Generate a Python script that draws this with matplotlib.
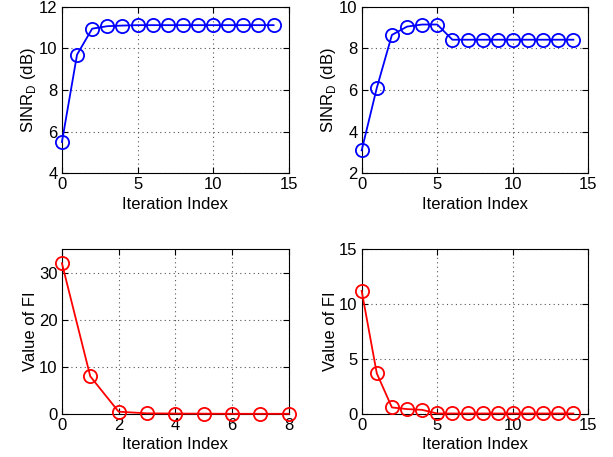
import matplotlib
matplotlib.use('Agg')
import matplotlib.pyplot as plt
import numpy as np

plt.rcParams['font.family'] = ['Liberation Sans', 'DejaVu Sans']
plt.rcParams['font.size'] = 12
plt.rcParams['mathtext.fontset'] = 'custom'
plt.rcParams['mathtext.rm'] = 'Liberation Sans'

# data
iter_tl = list(range(15))
sinr_tl = [5.5, 9.7, 10.95, 11.07, 11.1, 11.12, 11.12, 11.12, 11.12, 11.12, 11.12, 11.12, 11.12, 11.12, 11.12]

iter_tr = list(range(15))
sinr_tr = [3.1, 6.1, 8.65, 9.05, 9.15, 9.15, 8.42, 8.42, 8.42, 8.42, 8.42, 8.42, 8.42, 8.42, 8.42]

iter_bl = list(range(9))
fi_bl = [32.0, 8.0, 0.5, 0.15, 0.1, 0.08, 0.05, 0.05, 0.05]

iter_br = list(range(15))
fi_br = [11.2, 3.7, 0.6, 0.45, 0.38, 0.05, 0.05, 0.05, 0.05, 0.05, 0.05, 0.05, 0.05, 0.05, 0.05]

fig = plt.figure(figsize=(6.13, 4.57), dpi=100)

positions = [
    [0.101, 0.621, 0.370, 0.364],
    [0.590, 0.621, 0.370, 0.364],
    [0.101, 0.094, 0.370, 0.361],
    [0.590, 0.094, 0.370, 0.361],
]

panels = [
    (iter_tl, sinr_tl, 'b', (0, 15), (4, 12), [0, 5, 10, 15], [4, 6, 8, 10, 12], 'SINR$_\\mathrm{D}$ (dB)'),
    (iter_tr, sinr_tr, 'b', (0, 15), (2, 10), [0, 5, 10, 15], [2, 4, 6, 8, 10], 'SINR$_\\mathrm{D}$ (dB)'),
    (iter_bl, fi_bl, 'r', (0, 8), (0, 35), [0, 2, 4, 6, 8], [0, 10, 20, 30], 'Value of FI'),
    (iter_br, fi_br, 'r', (0, 15), (0, 15), [0, 5, 10, 15], [0, 5, 10, 15], 'Value of FI'),
]

for pos, (x, y, c, xl, yl, xt, yt, ylab) in zip(positions, panels):
    ax = fig.add_axes(pos)
    ax.plot(x, y, '-o', color=c, lw=1.3, markersize=9.5, markerfacecolor='none',
            markeredgewidth=1.3, clip_on=False, zorder=3)
    ax.set_xlim(*xl)
    ax.set_ylim(*yl)
    ax.set_xticks(xt)
    ax.set_yticks(yt)
    ax.grid(True, linestyle=(0, (1, 3)), color='#555555', linewidth=0.8)
    ax.tick_params(direction='in', top=True, right=True, length=4, pad=3)
    ax.set_xlabel('Iteration Index', labelpad=3)
    ax.set_ylabel(ylab, labelpad=1)
    for s in ax.spines.values():
        s.set_linewidth(0.8)

fig.savefig('out.png', dpi=100)
